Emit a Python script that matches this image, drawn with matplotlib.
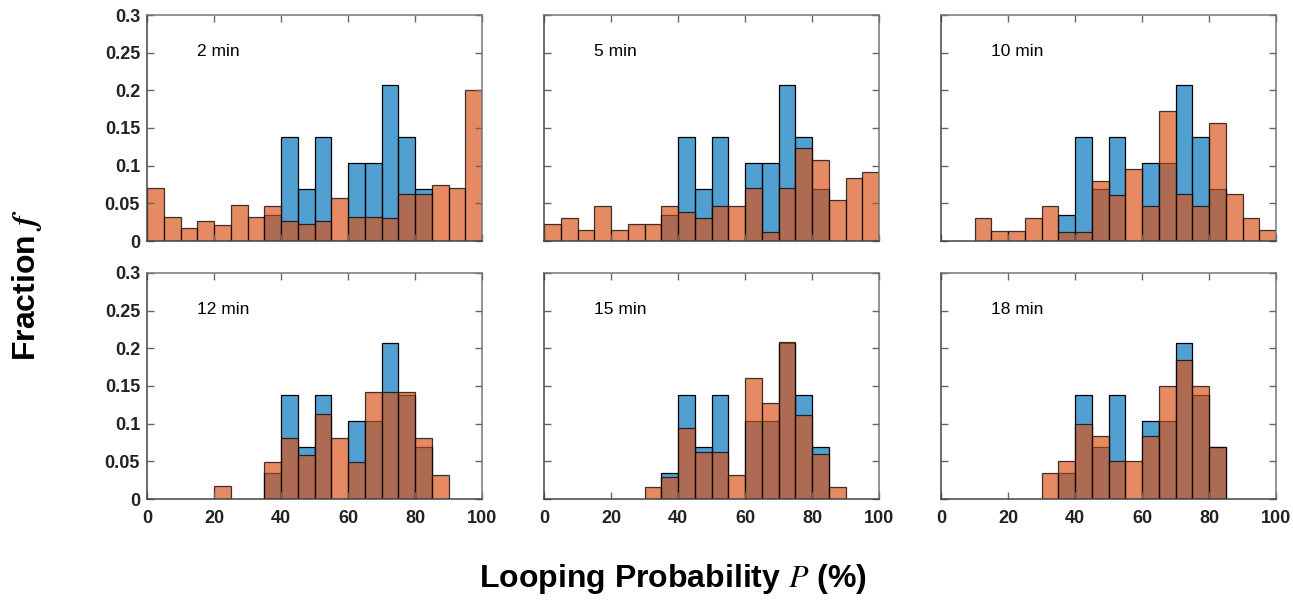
import matplotlib
matplotlib.use("Agg")
import matplotlib.pyplot as plt
import numpy as np

plt.rcParams['font.family'] = ['Liberation Sans', 'DejaVu Sans']
plt.rcParams['mathtext.fontset'] = 'stix'

# Histogram bin edges (Looping probability, %)
bin_edges = [0, 5, 10, 15, 20, 25, 30, 35, 40, 45, 50, 55, 60, 65, 70, 75, 80, 85, 90, 95, 100]

# Reference distribution (blue), same in every panel
blue = [0, 0, 0, 0, 0, 0, 0, 0.034, 0.138, 0.069, 0.138, 0, 0.103, 0.103, 0.207, 0.138, 0.069, 0, 0, 0]

# Time-point distributions (orange)
orange_2 = [0.070, 0.032, 0.017, 0.026, 0.021, 0.048, 0.032, 0.046, 0.026, 0.023, 0.026, 0.057, 0.032, 0.032, 0.030, 0.063, 0.063, 0.074, 0.070, 0.200]
orange_5 = [0.023, 0.030, 0.015, 0.046, 0.015, 0.023, 0.023, 0.046, 0.039, 0.030, 0.046, 0.046, 0.070, 0.012, 0.070, 0.123, 0.108, 0.054, 0.083, 0.092]
orange_10 = [0, 0, 0.030, 0.013, 0.013, 0.030, 0.046, 0.012, 0.012, 0.079, 0.061, 0.095, 0.046, 0.173, 0.062, 0.046, 0.156, 0.062, 0.030, 0.015]
orange_12 = [0, 0, 0, 0, 0.017, 0, 0, 0.049, 0.081, 0.059, 0.113, 0.081, 0.049, 0.142, 0.142, 0.142, 0.081, 0.032, 0, 0]
orange_15 = [0, 0, 0, 0, 0, 0, 0.016, 0.029, 0.094, 0.063, 0.063, 0.032, 0.161, 0.127, 0.208, 0.111, 0.060, 0.016, 0, 0]
orange_18 = [0, 0, 0, 0, 0, 0, 0.034, 0.050, 0.100, 0.084, 0.050, 0.050, 0.084, 0.150, 0.184, 0.150, 0.069, 0, 0, 0]

panel_labels = ['2 min', '5 min', '10 min', '12 min', '15 min', '18 min']
orange_series = [orange_2, orange_5, orange_10, orange_12, orange_15, orange_18]

y_ticks = [0, 0.05, 0.1, 0.15, 0.2, 0.25, 0.3]
y_ticklabels = ['0', '0.05', '0.1', '0.15', '0.2', '0.25', '0.3']
x_ticks = [0, 20, 40, 60, 80, 100]
x_ticklabels = ['0', '20', '40', '60', '80', '100']

BLUE = (0.0, 0.447, 0.741)
ORANGE = (0.850, 0.325, 0.098)
FACE_ALPHA = 0.68

W, H = 1293, 604
fig = plt.figure(figsize=(W / 100, H / 100), dpi=100)

lefts = [147, 544, 941]
tops = [15, 273]
aw, ah = 335, 226

edges = np.array(bin_edges, dtype=float)

def draw_hist(ax, values, color, edge_alpha):
    v = np.array(values, dtype=float)
    left = edges[:-1]
    width = np.diff(edges)
    m = v > 0
    ax.bar(left[m], v[m], width=width[m], align='edge',
           facecolor=color + (FACE_ALPHA,), edgecolor=(0, 0, 0, edge_alpha), linewidth=0.9)

for i, (lab, ov) in enumerate(zip(panel_labels, orange_series)):
    r, c = divmod(i, 3)
    ax = fig.add_axes([lefts[c] / W, 1 - (tops[r] + ah) / H, aw / W, ah / H])
    draw_hist(ax, blue, BLUE, 1.0)
    draw_hist(ax, ov, ORANGE, 0.75)
    ax.set_xlim(0, 100)
    ax.set_ylim(0, 0.3)
    ax.set_xticks(x_ticks)
    ax.set_yticks(y_ticks)
    ax.tick_params(direction='in', top=True, right=True, length=5, width=1,
                   color='#666666', labelcolor='#222222', labelsize=13)
    ax.tick_params(axis='x', pad=8)
    ax.tick_params(axis='y', pad=5)
    if c == 0:
        ax.set_yticklabels(y_ticklabels, fontweight='bold')
    else:
        ax.set_yticklabels([])
    if r == 1:
        ax.set_xticklabels(x_ticklabels, fontweight='bold')
    else:
        ax.set_xticklabels([])
    for name, s in ax.spines.items():
        s.set_color('#444444' if name in ('left', 'bottom') else '#777777')
        s.set_linewidth(1.1)
    ax.text(0.149, 0.84, lab, transform=ax.transAxes, fontsize=12.5,
            ha='left', va='center', color='black')

fig.text(27 / W, 1 - 285 / H, r'Fraction $\mathbfit{f}$', rotation=90, fontsize=23,
         fontweight='bold', ha='center', va='center')
fig.text(673 / W, 1 - 587 / H, r'Looping Probability $P$ (%)', fontsize=23,
         fontweight='bold', ha='center', va='baseline')

fig.savefig('out.png', dpi=100)
